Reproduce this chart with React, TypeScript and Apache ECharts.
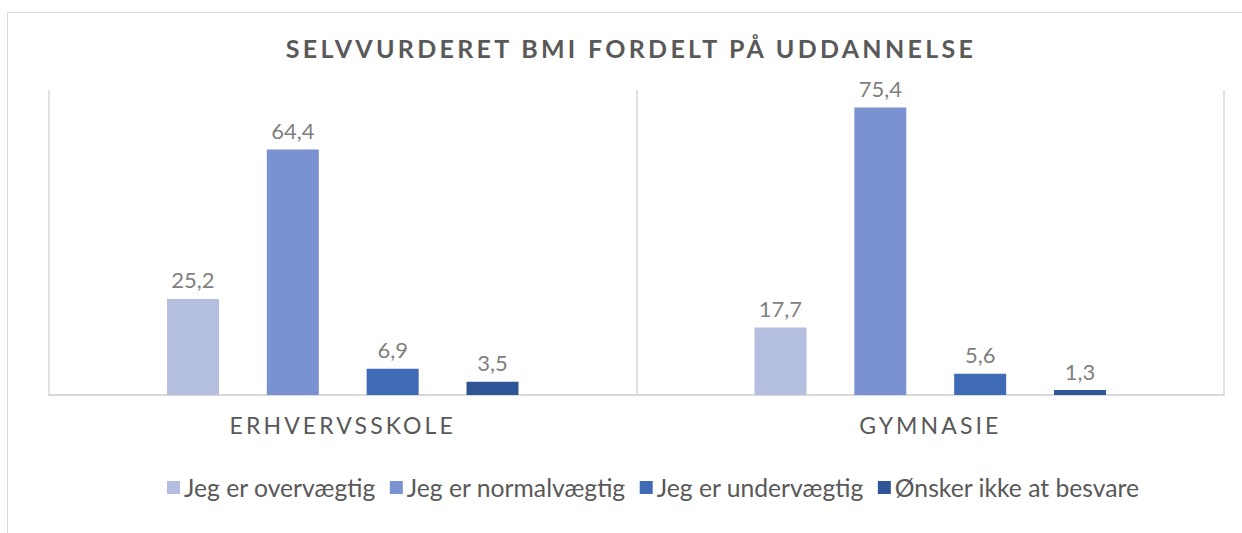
import React, { useEffect, useRef } from "react";
import * as echarts from "echarts";

const categories = ["ERHVERVSSKOLE", "GYMNASIE"];
const seriesNames = [
  "Jeg er overvægtig",
  "Jeg er normalvægtig",
  "Jeg er undervægtig",
  "Ønsker ikke at besvare",
];
const overvaegtig = [25.2, 17.7];
const normalvaegtig = [64.4, 75.4];
const undervaegtig = [6.9, 5.6];
const ikkeBesvare = [3.5, 1.3];
const seriesValues = [overvaegtig, normalvaegtig, undervaegtig, ikkeBesvare];
const colors = ["#b4bfe0", "#7a92d0", "#3e6ab6", "#2f5597"];
const title = "SELVVURDERET BMI FORDELT PÅ UDDANNELSE";

export default function App() {
  const ref = useRef<HTMLDivElement>(null);
  useEffect(() => {
    document.body.style.margin = "0";
    const st = document.createElement("style");
    st.textContent =
      '#chartbox text[style*="Verdana"]{letter-spacing:3.3px;}' +
      '#chartbox text[style*="Tahoma"]{letter-spacing:3.1px;}';
    document.head.appendChild(st);
    const chart = echarts.init(ref.current!, null, { renderer: "svg" });
    chart.setOption({
      animation: false,
      color: colors,
      title: {
        text: title,
        left: 626,
        top: 30,
        textAlign: "center",
        textStyle: {
          fontFamily: "Lato, Verdana",
          fontWeight: "bold",
          fontSize: 25,
          color: "#595959",
        },
      },
      graphic: [
        {
          type: "rect",
          shape: { x: 7.5, y: 12.5, width: 1400, height: 700 },
          style: { fill: "none", stroke: "#d9d9d9", lineWidth: 1 },
          silent: true,
        },
      ],
      legend: {
        left: 162,
        top: 470,
        itemWidth: 13,
        itemHeight: 13,
        itemGap: 14,
        icon: "rect",
        textStyle: {
          fontFamily: "Lato, sans-serif",
          fontSize: 24.7,
          color: "#595959",
          padding: [0, 0, 0, -1],
        },
        data: seriesNames,
      },
      grid: { left: 49, right: 18, top: 90, bottom: 138 },
      xAxis: {
        type: "category",
        data: categories,
        axisLine: { lineStyle: { color: "#d9d9d9", width: 2 } },
        axisTick: { show: false },
        splitLine: { show: true, lineStyle: { color: "#d9d9d9", width: 1.5 } },
        axisLabel: {
          margin: 18,
          fontFamily: "Lato, Tahoma",
          fontSize: 23,
          color: "#595959",
        },
      },
      yAxis: {
        type: "value",
        min: 0,
        max: 80,
        show: false,
        splitLine: { show: false },
      },
      series: seriesNames.map((name, i) => ({
        name,
        type: "bar",
        data: seriesValues[i],
        barWidth: 52,
        barGap: "92%",
        label: {
          show: true,
          position: "top",
          distance: 8,
          fontFamily: "Lato, sans-serif",
          fontSize: 22,
          color: "#7f7f7f",
          formatter: (p: any) => Number(p.value).toFixed(1).replace(".", ","),
        },
      })),
    });
    return () => {
      chart.dispose();
      st.remove();
    };
  }, []);
  return <div id="chartbox" ref={ref} style={{ width: 1242, height: 533 }} />;
}
